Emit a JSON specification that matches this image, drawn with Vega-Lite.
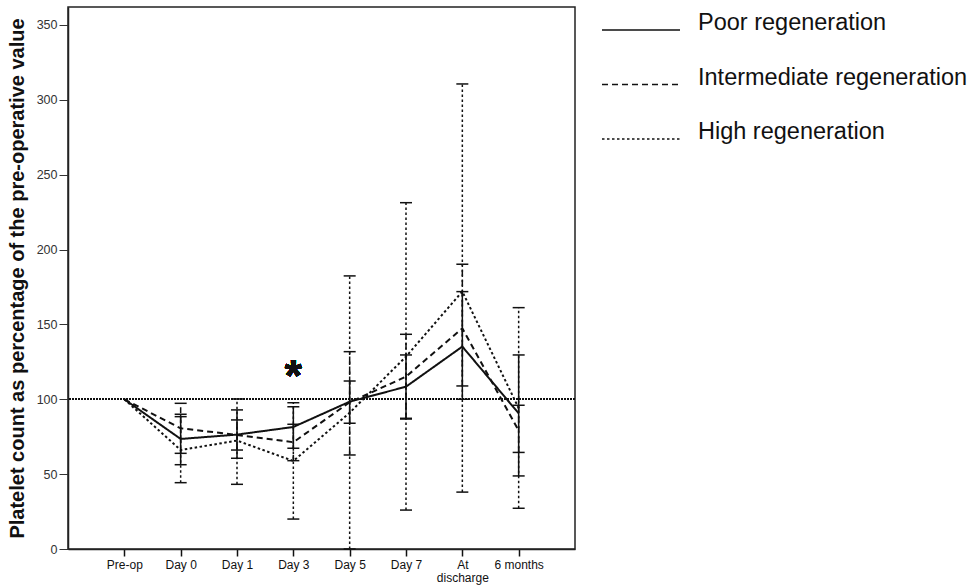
{
  "$schema": "https://vega.github.io/schema/vega-lite/v6.json",
  "width": 507,
  "height": 542,
  "autosize": {"type": "none"},
  "padding": {"left": 68, "top": 7, "right": 405, "bottom": 38},
  "background": "white",
  "config": {
    "view": {"stroke": "#222", "strokeWidth": 1.5},
    "font": "Liberation Sans"
  },
  "data": {
    "values": [
      {"time": "Pre-op", "group": "Poor regeneration", "mean": 100},
      {"time": "Day 0", "group": "Poor regeneration", "mean": 73.5, "lo": 56.3, "hi": 90},
      {"time": "Day 1", "group": "Poor regeneration", "mean": 76.4, "lo": 60.6, "hi": 92.9},
      {"time": "Day 3", "group": "Poor regeneration", "mean": 81.5, "lo": 67.3, "hi": 95},
      {"time": "Day 5", "group": "Poor regeneration", "mean": 98.4, "lo": 84, "hi": 112.2},
      {"time": "Day 7", "group": "Poor regeneration", "mean": 108.4, "lo": 87.3, "hi": 129.6},
      {"time": "At discharge", "group": "Poor regeneration", "mean": 135.2, "lo": 100, "hi": 171.9},
      {"time": "6 months", "group": "Poor regeneration", "mean": 90.6, "lo": 48.8, "hi": 129.6},
      {"time": "Pre-op", "group": "Intermediate regeneration", "mean": 100},
      {"time": "Day 0", "group": "Intermediate regeneration", "mean": 80.6, "lo": 63.9, "hi": 97.3},
      {"time": "Day 1", "group": "Intermediate regeneration", "mean": 76.2, "lo": 66.1, "hi": 86.2},
      {"time": "Day 3", "group": "Intermediate regeneration", "mean": 71.3, "lo": 59, "hi": 83.3},
      {"time": "Day 5", "group": "Intermediate regeneration", "mean": 98, "lo": 62.8, "hi": 131.8},
      {"time": "Day 7", "group": "Intermediate regeneration", "mean": 115.1, "lo": 86.8, "hi": 143.4},
      {"time": "At discharge", "group": "Intermediate regeneration", "mean": 147.4, "lo": 108.9, "hi": 190.2},
      {"time": "6 months", "group": "Intermediate regeneration", "mean": 79, "lo": 64.5, "hi": 96},
      {"time": "Pre-op", "group": "High regeneration", "mean": 100},
      {"time": "Day 0", "group": "High regeneration", "mean": 66.1, "lo": 44.3, "hi": 88.4},
      {"time": "Day 1", "group": "High regeneration", "mean": 72.4, "lo": 43.2, "hi": 100.2},
      {"time": "Day 3", "group": "High regeneration", "mean": 58.8, "lo": 20, "hi": 97.7},
      {"time": "Day 5", "group": "High regeneration", "mean": 91, "lo": 0, "hi": 182.4},
      {"time": "Day 7", "group": "High regeneration", "mean": 128.5, "lo": 26, "hi": 231.3},
      {"time": "At discharge", "group": "High regeneration", "mean": 172, "lo": 38, "hi": 310.6},
      {"time": "6 months", "group": "High regeneration", "mean": 94, "lo": 27.2, "hi": 161.2}
    ]
  },
  "encoding": {
    "x": {
      "field": "time",
      "type": "nominal",
      "sort": ["Pre-op", "Day 0", "Day 1", "Day 3", "Day 5", "Day 7", "At discharge", "6 months"],
      "scale": {"type": "point", "padding": 1},
      "axis": {
        "title": null,
        "labelAngle": 0,
        "labelFont": "Liberation Sans",
        "labelFontSize": 12,
        "labelColor": "#111",
        "labelPadding": 3,
        "labelLineHeight": 13,
        "labelExpr": "datum.value == 'At discharge' ? ['At', 'discharge'] : datum.value",
        "tickSize": 7,
        "tickColor": "#111",
        "tickWidth": 1.5,
        "domainColor": "#222",
        "domainWidth": 1.5
      }
    }
  },
  "layer": [
    {
      "mark": {"type": "rule", "stroke": "#111", "strokeWidth": 1, "strokeDash": [1.5, 1.5]},
      "encoding": {"y": {"datum": 100, "type": "quantitative"}, "x": null}
    },
    {
      "transform": [{"filter": "isValid(datum.lo)"}],
      "mark": {"type": "rule", "stroke": "#111", "strokeWidth": 1.5},
      "encoding": {
        "y": {"field": "lo", "type": "quantitative"},
        "y2": {"field": "hi"},
        "strokeDash": {"field": "group", "type": "nominal"}
      }
    },
    {
      "transform": [{"filter": "isValid(datum.lo)"}],
      "mark": {"type": "tick", "color": "#111", "thickness": 1.5, "size": 12, "opacity": 1},
      "encoding": {"y": {"field": "lo", "type": "quantitative"}}
    },
    {
      "transform": [{"filter": "isValid(datum.hi)"}],
      "mark": {"type": "tick", "color": "#111", "thickness": 1.5, "size": 12, "opacity": 1},
      "encoding": {"y": {"field": "hi", "type": "quantitative"}}
    },
    {
      "mark": {"type": "line", "stroke": "#111", "strokeWidth": 2},
      "encoding": {
        "y": {
          "field": "mean",
          "type": "quantitative",
          "scale": {"domain": [0, 362], "nice": false, "zero": true},
          "axis": {
            "title": "Platelet count as percentage of the pre-operative value",
            "titleFont": "Liberation Sans",
            "titleFontSize": 20,
            "titleFontWeight": "bold",
            "titleColor": "#111",
            "titlePadding": 9,
            "values": [0, 50, 100, 150, 200, 250, 300, 350],
            "grid": false,
            "labelFontSize": 12.5,
            "labelColor": "#333",
            "labelPadding": 2,
            "tickSize": 9,
            "tickColor": "#333",
            "domainColor": "#222",
            "domainWidth": 1.5
          }
        },
        "strokeDash": {
          "field": "group",
          "type": "nominal",
          "scale": {
            "domain": ["Poor regeneration", "Intermediate regeneration", "High regeneration"],
            "range": [[1, 0], [6, 4], [2.5, 2.5]]
          },
          "legend": {
            "title": null,
            "orient": "none",
            "legendX": 533,
            "legendY": -17,
            "symbolType": "stroke",
            "symbolSize": 6084,
            "symbolStrokeColor": "#111",
            "symbolStrokeWidth": 1.5,
            "labelFontSize": 23.5,
            "labelColor": "#111",
            "labelBaseline": "alphabetic",
            "labelOffset": 17,
            "rowPadding": 9.5,
            "labelLimit": 400
          }
        }
      }
    },
    {
      "mark": {"type": "text", "text": "*", "fontSize": 44, "fontWeight": "bold", "color": "#111", "baseline": "middle"},
      "encoding": {
        "x": {"datum": "Day 3"},
        "y": {"datum": 114, "type": "quantitative"}
      }
    }
  ]
}
